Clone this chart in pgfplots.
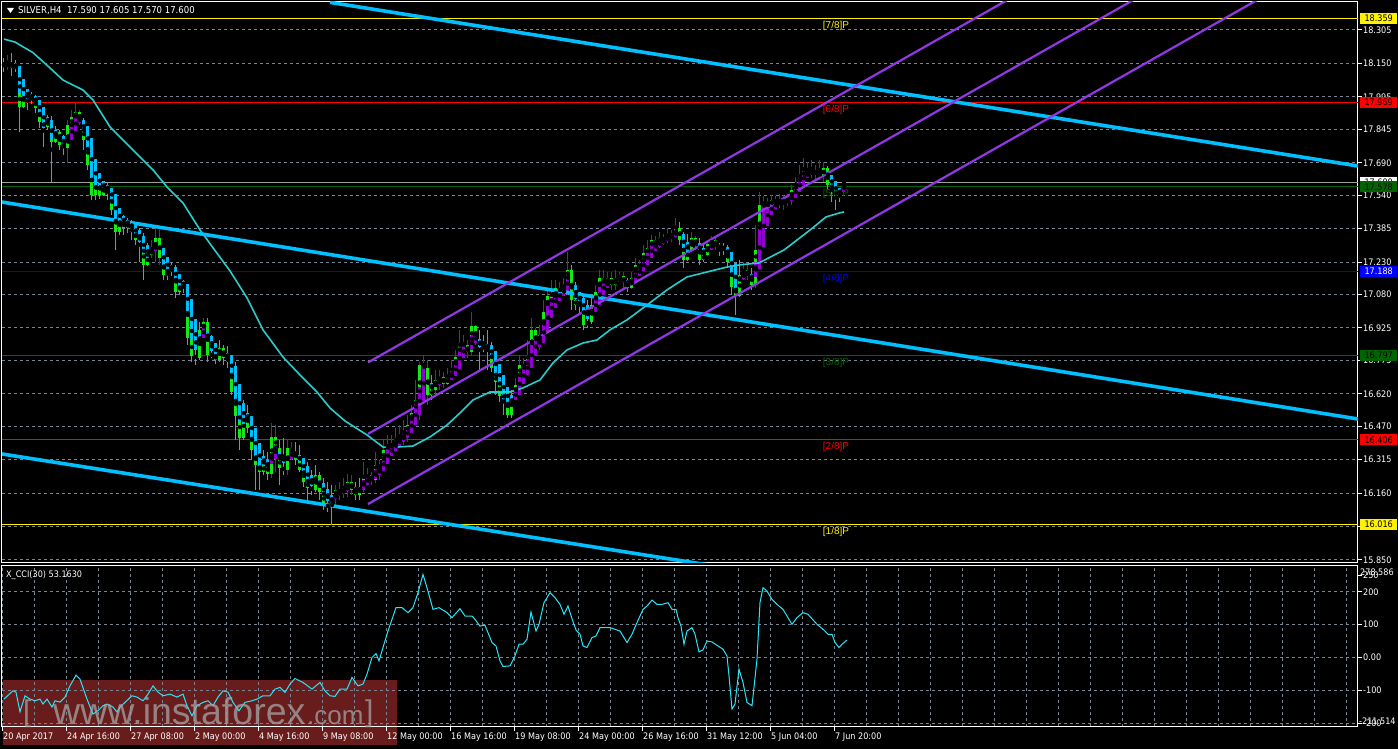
\documentclass[border=0pt]{standalone}
\usepackage{fontspec}
\usepackage{pgfplots}
\usepackage{pgfplotstable}
\pgfplotsset{compat=1.18}
\setmainfont{DejaVu Sans}
\newfontfamily\mtfont{DejaVu Sans Condensed}
\newfontfamily\arialfont{Liberation Sans}

\definecolor{deepsky}{RGB}{0,191,255}
\definecolor{habull}{RGB}{148,0,211}
\definecolor{chan}{RGB}{145,55,230}
\definecolor{candlelime}{RGB}{20,235,20}
\definecolor{maline}{RGB}{40,205,205}
\definecolor{cciline}{RGB}{40,230,250}
\definecolor{gridc}{RGB}{120,132,145}
\definecolor{lvgreen}{RGB}{0,100,0}
\definecolor{lvblue}{RGB}{0,0,255}
\definecolor{wmred}{RGB}{105,28,28}
\definecolor{bidgray}{RGB}{160,160,160}
\definecolor{wmtext}{RGB}{165,165,165}

% H4 bars: open high low close (x = bar number)
\pgfplotstableread{
o h l c
18.145 18.175 18.111 18.138
18.138 18.189 18.120 18.147
18.147 18.198 18.092 18.129
18.129 18.166 18.111 18.138
18.138 18.138 17.833 17.949
17.949 18.036 17.944 18.013
18.013 18.022 17.934 17.981
17.981 18.018 17.962 17.995
17.995 18.004 17.920 17.944
17.944 17.981 17.851 17.879
17.879 17.915 17.763 17.856
17.856 17.911 17.842 17.888
17.888 17.906 17.596 17.787
17.787 17.860 17.780 17.833
17.833 17.842 17.749 17.773
17.773 17.819 17.726 17.759
17.759 17.888 17.689 17.865
17.865 17.934 17.796 17.902
17.902 17.967 17.842 17.925
17.925 17.934 17.865 17.888
17.888 17.897 17.749 17.796
17.796 17.851 17.657 17.680
17.680 17.703 17.518 17.541
17.541 17.634 17.518 17.610
17.610 17.620 17.522 17.541
17.541 17.601 17.535 17.582
17.582 17.596 17.518 17.555
17.555 17.573 17.448 17.471
17.471 17.541 17.286 17.370
17.370 17.471 17.356 17.434
17.434 17.448 17.356 17.388
17.388 17.434 17.365 17.416
17.416 17.425 17.332 17.370
17.370 17.402 17.309 17.332
17.332 17.388 17.231 17.347
17.347 17.365 17.147 17.217
17.217 17.318 17.210 17.263
17.263 17.332 17.249 17.286
17.286 17.388 17.231 17.342
17.342 17.379 17.217 17.249
17.249 17.263 17.147 17.170
17.170 17.231 17.147 17.184
17.184 17.231 17.165 17.203
17.203 17.217 17.064 17.092
17.092 17.147 17.078 17.124
17.124 17.147 17.087 17.110
17.110 17.124 16.846 16.878
16.878 17.054 16.768 16.795
16.795 16.962 16.754 16.786
16.786 16.953 16.777 16.916
16.916 16.971 16.893 16.953
16.953 16.971 16.768 16.800
16.800 16.893 16.786 16.800
16.800 16.832 16.758 16.777
16.777 16.869 16.768 16.832
16.832 16.846 16.754 16.786
16.786 16.842 16.740 16.768
16.768 16.800 16.614 16.628
16.628 16.768 16.406 16.517
16.517 16.661 16.360 16.415
16.415 16.591 16.406 16.527
16.527 16.568 16.438 16.462
16.462 16.499 16.313 16.360
16.360 16.462 16.174 16.290
16.290 16.383 16.174 16.258
16.258 16.360 16.244 16.290
16.290 16.351 16.221 16.248
16.248 16.485 16.230 16.420
16.420 16.476 16.258 16.369
16.369 16.406 16.198 16.276
16.276 16.415 16.244 16.267
16.267 16.406 16.244 16.369
16.369 16.397 16.313 16.351
16.351 16.397 16.290 16.313
16.313 16.383 16.258 16.267
16.267 16.323 16.189 16.212
16.212 16.304 16.128 16.184
16.184 16.267 16.151 16.174
16.174 16.290 16.165 16.244
16.244 16.258 16.128 16.165
16.165 16.230 16.082 16.105
16.105 16.212 16.073 16.096
16.096 16.198 16.012 16.151
16.151 16.198 16.105 16.174
16.174 16.212 16.128 16.161
16.161 16.230 16.137 16.184
16.184 16.249 16.142 16.212
16.212 16.244 16.151 16.174
16.174 16.212 16.128 16.151
16.151 16.230 16.128 16.188
16.188 16.304 16.165 16.230
16.230 16.276 16.198 16.244
16.244 16.258 16.198 16.221
16.221 16.351 16.207 16.290
16.290 16.313 16.221 16.276
16.276 16.406 16.267 16.360
16.360 16.429 16.323 16.383
16.383 16.429 16.336 16.369
16.369 16.462 16.351 16.415
16.415 16.476 16.369 16.406
16.406 16.499 16.383 16.443
16.443 16.522 16.397 16.476
16.476 16.568 16.462 16.531
16.531 16.684 16.476 16.591
16.591 16.768 16.499 16.753
16.753 16.800 16.707 16.740
16.740 16.777 16.568 16.614
16.614 16.707 16.591 16.638
16.638 16.730 16.614 16.684
16.684 16.730 16.638 16.698
16.698 16.721 16.647 16.666
16.666 16.740 16.661 16.693
16.693 16.777 16.684 16.730
16.730 16.823 16.721 16.791
16.791 16.916 16.777 16.856
16.856 16.893 16.800 16.846
16.846 16.869 16.786 16.814
16.814 16.999 16.800 16.934
16.934 16.939 16.846 16.869
16.869 16.916 16.730 16.837
16.837 16.893 16.814 16.832
16.832 16.916 16.730 16.846
16.846 16.860 16.721 16.740
16.740 16.768 16.614 16.675
16.675 16.753 16.582 16.610
16.610 16.647 16.522 16.605
16.605 16.638 16.508 16.522
16.522 16.638 16.508 16.614
16.614 16.693 16.591 16.661
16.661 16.800 16.655 16.753
16.753 16.786 16.707 16.730
16.730 16.869 16.707 16.795
16.795 16.971 16.753 16.916
16.916 16.925 16.823 16.846
16.846 16.939 16.823 16.893
16.893 17.054 16.860 16.999
16.999 17.101 16.990 17.073
17.073 17.147 17.008 17.031
17.031 17.147 17.025 17.110
17.110 17.138 17.064 17.092
17.092 17.156 17.078 17.124
17.124 17.277 17.078 17.193
17.193 17.217 17.008 17.054
17.054 17.138 17.008 17.031
17.031 17.078 16.985 17.054
17.054 17.078 16.916 16.939
16.939 17.054 16.925 16.953
16.953 17.064 16.945 17.031
17.031 17.124 17.008 17.092
17.092 17.193 17.068 17.156
17.156 17.193 17.101 17.124
17.124 17.184 17.110 17.156
17.156 17.184 17.101 17.124
17.124 17.193 17.101 17.147
17.147 17.184 17.138 17.165
17.165 17.184 17.110 17.138
17.138 17.156 17.092 17.110
17.110 17.184 17.105 17.156
17.156 17.249 17.150 17.217
17.217 17.240 17.170 17.203
17.203 17.309 17.198 17.272
17.272 17.332 17.231 17.295
17.295 17.356 17.277 17.332
17.332 17.351 17.286 17.314
17.314 17.370 17.295 17.342
17.342 17.360 17.309 17.332
17.332 17.388 17.318 17.360
17.360 17.379 17.323 17.351
17.351 17.434 17.345 17.388
17.388 17.416 17.309 17.332
17.332 17.370 17.203 17.240
17.240 17.360 17.235 17.286
17.286 17.370 17.280 17.342
17.342 17.351 17.286 17.309
17.309 17.342 17.217 17.240
17.240 17.309 17.231 17.263
17.263 17.332 17.258 17.314
17.314 17.351 17.286 17.332
17.332 17.342 17.286 17.309
17.309 17.318 17.258 17.286
17.286 17.318 17.263 17.300
17.300 17.309 17.203 17.231
17.231 17.263 17.078 17.115
17.115 17.217 16.985 17.073
17.073 17.240 17.068 17.170
17.170 17.231 17.147 17.193
17.193 17.217 17.147 17.170
17.170 17.203 17.101 17.124
17.124 17.402 17.110 17.286
17.286 17.555 17.263 17.494
17.494 17.536 17.448 17.508
17.508 17.527 17.462 17.494
17.494 17.541 17.471 17.518
17.518 17.536 17.481 17.504
17.504 17.545 17.481 17.518
17.518 17.541 17.471 17.508
17.508 17.545 17.490 17.527
17.527 17.587 17.494 17.564
17.564 17.624 17.555 17.587
17.587 17.680 17.573 17.633
17.633 17.712 17.610 17.647
17.647 17.694 17.620 17.638
17.638 17.703 17.620 17.652
17.652 17.680 17.610 17.643
17.643 17.703 17.610 17.629
17.629 17.694 17.601 17.666
17.666 17.675 17.564 17.587
17.587 17.620 17.508 17.573
17.573 17.587 17.471 17.527
17.527 17.573 17.508 17.545
17.590 17.605 17.570 17.600
}\bars

% Heiken Ashi body from the bars above
\pgfplotstablecreatecol[create col/assign/.code={%
    \getthisrow{o}\vo \getthisrow{h}\vh \getthisrow{l}\vl \getthisrow{c}\vc
    \pgfmathsetmacro\curhac{(\vo+\vh+\vl+\vc)/4}%
    \pgfkeyslet{/pgfplots/table/create col/next content}\curhac}]{hac}{\bars}
\gdef\hapo{18.150}\gdef\hapc{18.150}
\pgfplotstablecreatecol[create col/assign/.code={%
    \getthisrow{hac}\curhac
    \pgfmathsetmacro\curhao{(\hapo+\hapc)/2}%
    \xdef\hapo{\curhao}\xdef\hapc{\curhac}%
    \pgfkeyslet{/pgfplots/table/create col/next content}\curhao}]{hao}{\bars}

% moving average
\pgfplotstableread{
i v
0 18.263
2.75 18.249
7.25 18.200
11.5 18.129
14.75 18.073
19.75 18.027
22.25 17.981
26.5 17.856
32.25 17.749
37.25 17.657
40.75 17.578
44.75 17.504
49 17.379
52.25 17.296
56.5 17.189
60.75 17.064
64.75 16.916
69.75 16.790
74 16.707
78.25 16.628
81.5 16.554
85.25 16.494
90.75 16.429
94.75 16.373
98.25 16.373
102.25 16.378
106.5 16.420
110.75 16.475
114 16.531
117.25 16.591
121.5 16.628
126.5 16.628
129.75 16.647
134 16.684
137.25 16.763
140.75 16.823
144.75 16.855
148.25 16.869
151.5 16.916
155.75 16.962
160.75 17.031
165.75 17.101
170.75 17.161
175.75 17.184
180.75 17.207
184 17.217
188.75 17.226
195 17.286
199.25 17.346
202.5 17.393
205.5 17.439
208.75 17.457
210 17.462
}\madata

% CCI(30)
\pgfplotstableread{
i v
0 -126.6
2.25 -101.4
3 -105.3
4 -165.1
5.25 -116.5
6.5 -126.6
7.75 -131.7
9 -126.6
9.75 -141.7
10.75 -126.6
12 -150.8
12.75 -131.7
14 -135.7
15.25 -120.5
16.5 -86.2
18 -53.7
19 -65.9
20.75 -126.6
22.25 -172.1
23.5 -162.1
24.75 -146.9
25.75 -141.7
27.25 -150.8
28.25 -166.0
29 -150.8
30.25 -136.6
32 -116.5
33.25 -120.5
34.75 -131.7
36 -111.4
37.25 -86.2
38.5 -105.3
39.75 -116.5
41.5 -111.4
43.25 -120.5
44.75 -111.4
45.75 -146.9
47 -177.2
48.25 -146.9
49.75 -136.6
51 -131.7
52.25 -146.9
53.5 -120.5
54.75 -101.4
56 -105.3
57.25 -136.6
58.75 -162.1
60.25 -136.6
62 -131.7
63.25 -126.6
64.75 -116.5
66.5 -116.5
67.75 -96.2
69 -91.1
70.25 -106.2
71.5 -81.0
72.75 -63.7
74.75 -75.9
77 -96.2
79 -75.9
80.25 -101.4
81.5 -116.5
82.75 -118.4
84 -96.2
85.75 -96.2
87 -60.7
88.5 -86.2
89.75 -81.0
90.75 -50.7
92 0
93 12.1
93.75 -10.3
94.75 30.4
96 80.7
98 151.8
99.5 151.8
101 136.6
102.25 151.8
103.5 197.3
104.75 252.8
105.75 212.5
107.25 146.6
108.75 151.8
110.75 136.6
112 121.4
114 148.7
115.25 126.3
117 126.3
117.75 116.2
119 95.9
120.25 98.0
122 45.5
123 35.2
124 -10.3
124.75 -27.3
126.5 -25.5
127.75 4.9
128.75 40.4
129.75 40.4
130.75 55.5
131.75 138.4
133 80.7
133.75 101.1
135 166.9
136.5 197.3
137.75 182.1
139 161.8
140 131.4
141 156.6
142 118.4
143 83.8
144 70.8
144.75 35.2
145.75 30.4
147 60.7
148 65.6
149 91.1
151.5 91.1
152.75 85.9
154 80.7
155.75 45.5
157 70.8
158.25 106.2
159.75 146.6
160.75 156.6
162 174.8
163.25 161.8
164.5 161.8
166 166.9
167 146.6
168 146.6
168.5 121.4
169.25 95.9
170 40.4
170.75 80.7
172 91.1
172.75 70.8
173.75 17.0
174.75 23.1
175.75 50.4
177 47.3
178.5 35.2
179.75 25.2
180.75 4.9
181.25 -55.8
182 -156.9
182.75 -141.7
183.75 -35.5
184.75 -75.9
185.75 -136.6
187 -146.9
187.5 -91.1
188.25 -5.2
189 166.9
189.75 212.5
190.75 202.1
192 176.9
193.25 161.8
194.75 146.6
197 101.1
198.25 121.4
199.75 136.6
201 131.4
203.25 101.1
204.75 85.9
206 70.8
207 70.8
207.75 45.5
208.75 30.4
209.5 40.4
210.75 53.163
}\ccidata

\pgfplotsset{
  mtaxis/.style={
    scale only axis, width=1356pt, anchor=south west,
    xmin=-0.5, xmax=338.5,
    axis line style={white, line width=1pt},
    minor xtick={-0.25,7.75,...,335.75},
    xminorgrids=true, ymajorgrids=true,
    grid style={gridc, line width=1pt, dash pattern=on 3pt off 3pt},
    minor grid style={gridc, line width=1pt, dash pattern=on 3pt off 3pt},
    major tick length=4pt, minor tick length=0pt,
    tick align=outside,
    tick style={white, line width=1pt},
    ticklabel style={font=\mtfont\fontsize{9}{10}\selectfont, text=white},
    ytick pos=right, yticklabel pos=right,
    yticklabel style={anchor=west, inner sep=0pt, xshift=1pt},
  },
  candle/.style={only marks, mark=none, forget plot,
    error bars/y dir=both, error bars/y explicit, error bars/error mark=none},
  haup/.style={restrict expr to domain={\thisrow{hac}-\thisrow{hao}}{0:100}},
  hadown/.style={restrict expr to domain={\thisrow{hac}-\thisrow{hao}}{-100:-0.000001}},
}

\begin{document}
\begin{tikzpicture}
\fill[black] (0pt,0pt) rectangle (1398pt,749pt);
\fill[wmred] (3pt,4pt) rectangle (397pt,69pt);

% ---------- price panel ----------
\begin{axis}[mtaxis, at={(2pt,186pt)}, height=561pt,
  ymin=15.836, ymax=18.4347,
  xtick=\empty,
  ytick={18.305,18.150,17.995,17.845,17.690,17.540,17.385,17.230,17.080,16.925,16.775,16.620,16.470,16.315,16.160,16.005,15.850},
  yticklabels={18.305,18.150,17.995,17.845,17.690,17.540,17.385,17.230,17.080,16.925,16.775,16.620,16.470,16.315,16.160,16.005,15.850},
]
% Murrey levels
\addplot[yellow, line width=1pt, forget plot] coordinates {(-1,18.359) (340,18.359)};
\addplot[red, line width=1pt, forget plot] coordinates {(-1,17.969) (340,17.969)};
\addplot[bidgray, line width=1pt, forget plot] coordinates {(-1,17.600) (340,17.600)};
\addplot[lvgreen, line width=1pt, forget plot] coordinates {(-1,17.578) (340,17.578)};
\addplot[lvblue, line width=1pt, forget plot] coordinates {(-1,17.188) (340,17.188)};
\addplot[lvgreen, line width=1pt, forget plot] coordinates {(-1,16.797) (340,16.797)};
\addplot[red, line width=1pt, forget plot] coordinates {(-1,16.406) (340,16.406)};
\addplot[yellow, line width=1pt, forget plot] coordinates {(-1,16.016) (340,16.016)};

% wicks
\addplot[candle, haup, error bars/error bar style={draw=habull, line width=1pt}]
  table[x expr=\coordindex, y expr={(\thisrow{h}+\thisrow{l})/2}, y error expr={(\thisrow{h}-\thisrow{l})/2}] {\bars};
\addplot[candle, hadown, error bars/error bar style={draw=deepsky, line width=1pt}]
  table[x expr=\coordindex, y expr={(\thisrow{h}+\thisrow{l})/2}, y error expr={(\thisrow{h}-\thisrow{l})/2}] {\bars};
% plain candle body (lime)
\addplot[candle, error bars/error bar style={draw=candlelime, line width=3pt}]
  table[x expr=\coordindex, y expr={(\thisrow{o}+\thisrow{c})/2}, y error expr={abs(\thisrow{c}-\thisrow{o})/2}] {\bars};
% Heiken Ashi body on top
\addplot[candle, haup, error bars/error bar style={draw=habull, line width=3pt}]
  table[x expr=\coordindex, y expr={(\thisrow{hao}+\thisrow{hac})/2}, y error expr={abs(\thisrow{hac}-\thisrow{hao})/2}] {\bars};
\addplot[candle, hadown, error bars/error bar style={draw=deepsky, line width=3pt}]
  table[x expr=\coordindex, y expr={(\thisrow{hao}+\thisrow{hac})/2}, y error expr={abs(\thisrow{hac}-\thisrow{hao})/2}] {\bars};

% moving average
\addplot[maline, line width=1.6pt, forget plot] table[x=i, y=v] {\madata};

% trend lines
\addplot[deepsky, line width=3.6pt, forget plot] coordinates {(81.5,18.433) (338.5,17.675)};
\addplot[deepsky, line width=3.6pt, forget plot] coordinates {(-0.5,17.508) (338.5,16.503)};
\addplot[deepsky, line width=3.6pt, forget plot] coordinates {(-0.5,16.341) (338.5,15.354)};
% regression channel
\addplot[chan, line width=2.2pt, forget plot] coordinates {(91,16.765) (330,19.2755)};
\addplot[chan, line width=2.2pt, forget plot] coordinates {(91,16.434) (330,18.9445)};
\addplot[chan, line width=2.2pt, forget plot] coordinates {(91,16.109) (330,18.6195)};

% level captions
\begin{scope}[every node/.style={anchor=north, inner sep=0pt, yshift=-2.5pt, font=\arialfont\fontsize{10}{11}\selectfont}]
\node[text=yellow] at (axis cs:208,18.359) {[7/8]P};
\node[text=red] at (axis cs:208,17.969) {[6/8]P};
\node[text=lvgreen] at (axis cs:208,17.578) {[5/8]P};
\node[text=lvblue] at (axis cs:208,17.188) {[4/8]P};
\node[text=lvgreen] at (axis cs:208,16.797) {[3/8]P};
\node[text=red] at (axis cs:208,16.406) {[2/8]P};
\node[text=yellow] at (axis cs:208,16.016) {[1/8]P};
\end{scope}

\coordinate (k7) at (axis cs:0,18.359);
\coordinate (k6) at (axis cs:0,17.969);
\coordinate (bid) at (axis cs:0,17.600);
\coordinate (k5) at (axis cs:0,17.578);
\coordinate (k4) at (axis cs:0,17.188);
\coordinate (k3) at (axis cs:0,16.797);
\coordinate (k2) at (axis cs:0,16.406);
\coordinate (k1) at (axis cs:0,16.016);
\end{axis}

% ---------- CCI panel ----------
\begin{axis}[mtaxis, at={(2pt,22pt)}, height=161pt,
  ymin=-211.514, ymax=278.586,
  xtick={-0.25,15.75,...,207.75},
  xticklabels={20 Apr 2017,24 Apr 16:00,27 Apr 08:00,2 May 00:00,4 May 16:00,9 May 08:00,12 May 00:00,16 May 16:00,19 May 08:00,24 May 00:00,26 May 16:00,31 May 12:00,5 Jun 04:00,7 Jun 20:00},
  xtick pos=left,
  xticklabel style={anchor=north west, inner sep=0pt, xshift=0pt, yshift=-2pt},
  ytick={-200,-100,0,100,200},
  yticklabels={-200,-100,0.00,100,200},
  extra y ticks={250}, extra y tick labels={250},
  extra y tick style={grid=none},
]
\addplot[cciline, line width=1pt, forget plot] table[x=i, y=v] {\ccidata};
\end{axis}

% price tags on the right scale
\coordinate (R) at (1360pt,0pt);
\begin{scope}[every node/.style={anchor=west, inner sep=0pt, minimum width=37pt, minimum height=11pt,
    font=\mtfont\fontsize{9}{10}\selectfont}]
\node[fill=yellow, text=black] at (k7 -| R) {18.359};
\node[fill=red, text=black] at (k6 -| R) {17.969};
\node[fill=white, text=black] at (bid -| R) {17.600};
\node[fill=lvgreen, text=black] at (k5 -| R) {17.578};
\node[fill=lvblue, text=white] at (k4 -| R) {17.188};
\node[fill=lvgreen, text=black] at (k3 -| R) {16.797};
\node[fill=red, text=black] at (k2 -| R) {16.406};
\node[fill=yellow, text=black] at (k1 -| R) {16.016};
\end{scope}
\node[anchor=west, inner sep=0pt, text=white, font=\mtfont\fontsize{9}{10}\selectfont] at (1360pt,177pt) {278.586};
\node[anchor=west, inner sep=0pt, text=white, font=\mtfont\fontsize{9}{10}\selectfont] at (1359pt,28pt) {-211.514};

% headers
\fill[white] (7pt,741pt) -- (14pt,741pt) -- (10.5pt,736pt) -- cycle;
\node[anchor=west, inner sep=0pt, text=white, font=\mtfont\fontsize{9.5}{10}\selectfont] at (18pt,738pt)
  {SILVER,H4\ \ 17.590 17.605 17.570 17.600};
\node[anchor=west, inner sep=0pt, text=white, font=\mtfont\fontsize{9}{10}\selectfont] at (6pt,174pt)
  {X\_CCI(30) 53.1630};

% watermark
\begin{scope}[every node/.style={anchor=base west, inner sep=0pt, text=wmtext, text opacity=0.75}]
\node[font=\arialfont\fontsize{30}{30}\selectfont] at (23pt,27pt) {[};
\node[font=\arialfont\fontsize{37.5}{38}\selectfont] at (53pt,24pt) {www.instaforex};
\node[font=\arialfont\fontsize{26}{26}\selectfont] at (307pt,24pt) {.com};
\node[font=\arialfont\fontsize{30}{30}\selectfont] at (365pt,27pt) {]};
\end{scope}

\pgfresetboundingbox
\useasboundingbox (0pt,0pt) rectangle (1398pt,749pt);
\end{tikzpicture}
\end{document}
